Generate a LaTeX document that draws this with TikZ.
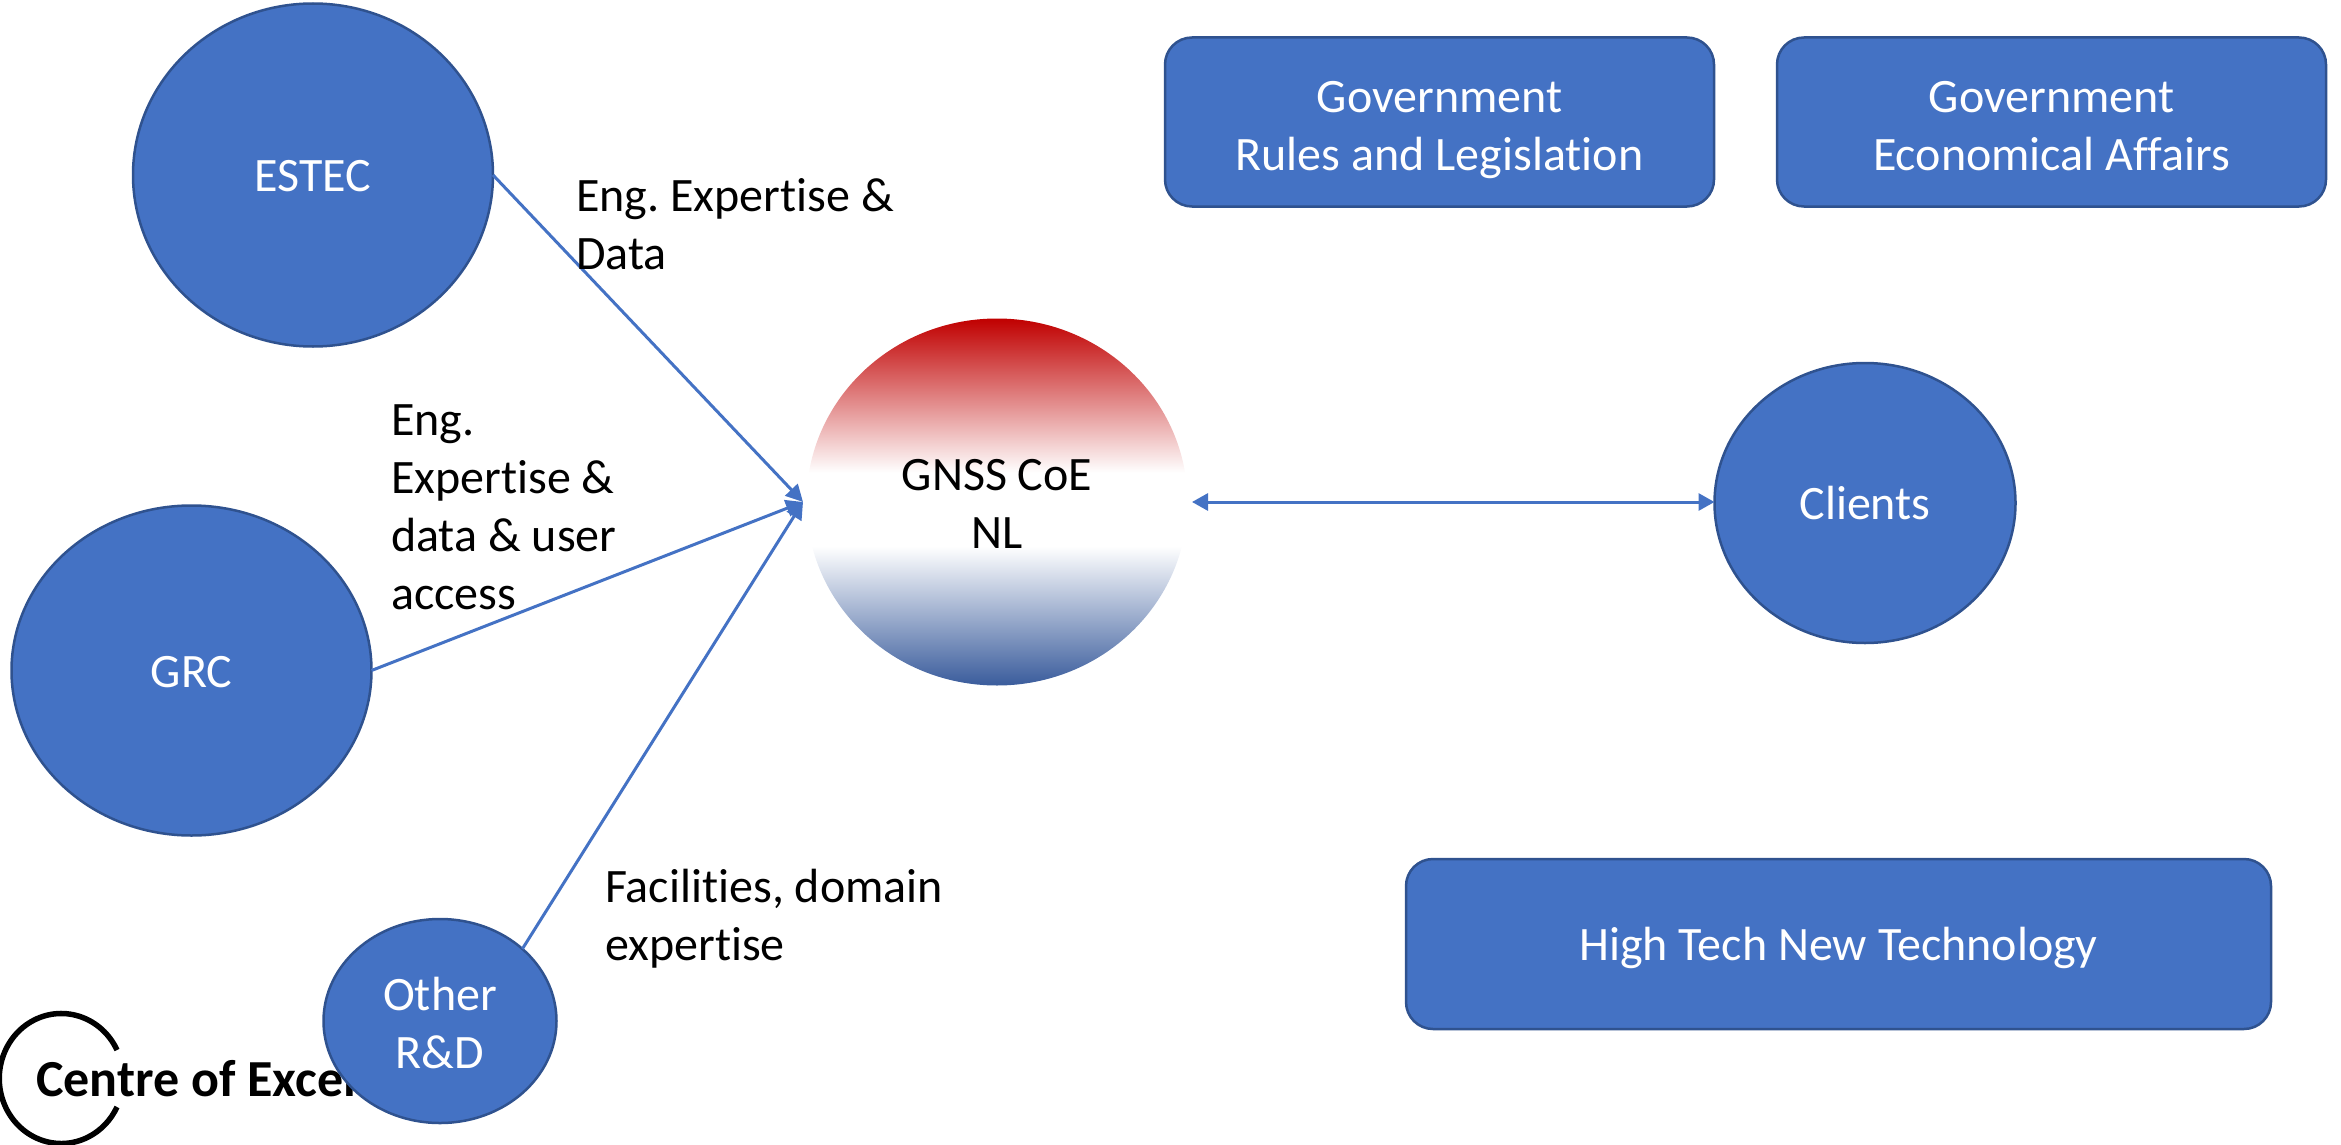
\documentclass[tikz,border=0pt]{standalone}
\usepackage{fontspec}
\setmainfont{Carlito}[Ligatures=NoCommon]
\usetikzlibrary{shapes.geometric,arrows.meta}
\definecolor{bluefill}{HTML}{4472C4}
\definecolor{blueedge}{HTML}{2F528F}
\definecolor{flagred}{HTML}{C00000}
\definecolor{flagblue}{HTML}{3A5C9C}
\pgfdeclareverticalshading{dutchflag}{100bp}{
  color(0bp)=(flagblue); color(25bp)=(flagblue); color(44bp)=(white);
  color(54bp)=(white); color(75bp)=(flagred); color(100bp)=(flagred)}
% first-line strut with extra height: moves a centred text block down by half of #1
\newcommand{\upstrut}[1]{\rule[-17.4pt]{0pt}{\dimexpr 58pt+#1pt\relax}}
\frenchspacing
\tikzset{
  bodytext/.style={font=\fontsize{48}{58}\selectfont\frenchspacing},
  blob/.style={ellipse,fill=bluefill,draw=blueedge,line width=2.5pt,text=white,
    bodytext,align=center,inner sep=0pt,outer sep=0pt},
  panel/.style={rectangle,rounded corners=27pt,fill=bluefill,draw=blueedge,line width=2.5pt,
    text=white,bodytext,align=center,inner sep=0pt,outer sep=0pt},
  lbl/.style={bodytext,text=black,align=left,anchor=west,inner sep=0pt},
  link/.style={draw=bluefill,line width=3pt},
  headin/.style={-{Triangle[length=17pt,width=17pt]}},
  headboth/.style={{Triangle[length=16pt,width=17pt]}-{Triangle[length=16pt,width=17pt]}},
}
\begin{document}
\begin{tikzpicture}[x=1pt,y=-1pt]
\useasboundingbox (0,0) rectangle (2341,1145);
\clip (0,0) rectangle (2341,1145);
% logo
\draw[black,line width=5.5pt] (117,1050) arc[start angle=-26,end angle=-334,x radius=62,y radius=65];
\node[anchor=base west,inner sep=0pt,font=\fontsize{52}{60}\selectfont\bfseries] (logo) at (36,1096) {Centre of Excell};
% shapes
\node[blob,minimum width=360pt,minimum height=343pt] (estec) at (313,175) {\upstrut{9}ESTEC};
\node[blob,minimum width=360pt,minimum height=330pt] (grc) at (191.5,670.5) {\upstrut{10}GRC};
\node[blob,minimum width=233pt,minimum height=204pt] (other) at (440,1021) {\upstrut{14}Other\\\strut R\&D};
\node[ellipse,shading=dutchflag,minimum width=381pt,minimum height=367pt,inner sep=0pt,outer sep=0pt,
  bodytext,align=center,text=black] (gnss) at (997,502) {\upstrut{12}GNSS CoE\\\strut NL};
\node[blob,minimum width=301pt,minimum height=280pt] (clients) at (1865,503) {\upstrut{9}Clients};
\node[panel,minimum width=549pt,minimum height=169pt] (gov1) at (1439.5,122) {\upstrut{15}Government\\\strut Rules and Legislation};
\node[panel,minimum width=549pt,minimum height=169pt] (gov2) at (2051.5,122) {\upstrut{15}Government\\\strut Economical Affairs};
\node[panel,minimum width=865pt,minimum height=170pt] (tech) at (1838.5,944) {\upstrut{9}High Tech New Technology};
% connectors
\coordinate (hubl) at (803,502);
\coordinate (hubr) at (1192,502);
\draw[link,headin] (estec.east) -- (hubl);
\draw[link,headin] (grc.east) -- (hubl);
\draw[link,headin] (other.north east) -- (hubl);
\draw[link,headboth] (hubr) -- (clients.west |- hubr);
% labels
\node[lbl] (l1) at (576,224) {\upstrut{9}Eng. Expertise \&\\\strut Data};
\node[lbl] (l2) at (391,507) {\upstrut{7}Eng.\\\strut Expertise \&\\\strut data \& user\\\strut access};
\node[lbl] (l3) at (605,914) {\upstrut{12}Facilities, domain\\\strut expertise};
\end{tikzpicture}
\end{document}
